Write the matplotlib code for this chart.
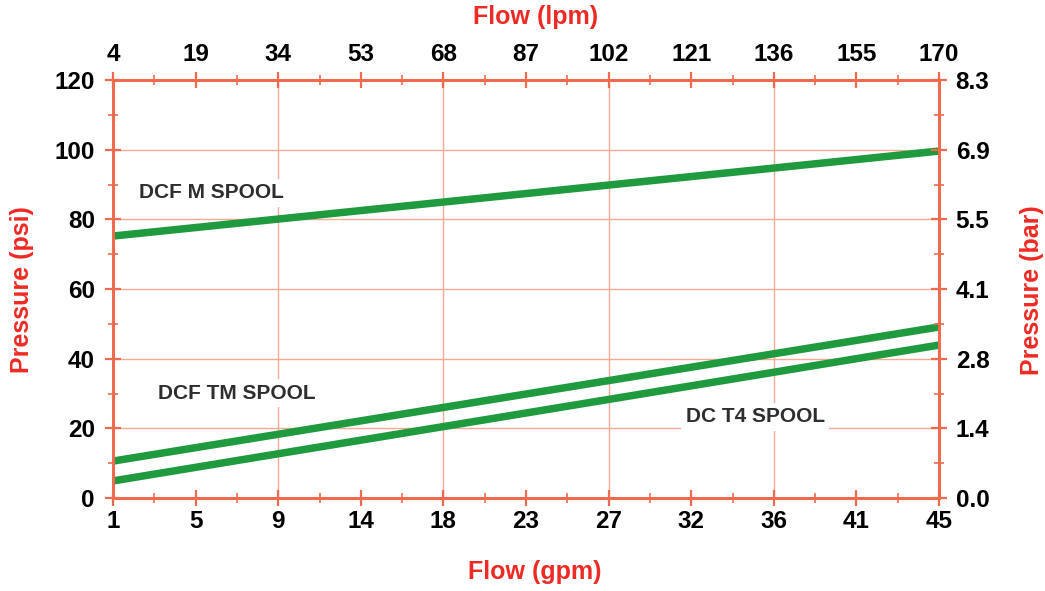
import numpy as np
import matplotlib
matplotlib.use("Agg")
import matplotlib.pyplot as plt
from matplotlib.ticker import FixedLocator, MultipleLocator

plt.rcParams['font.family'] = ['Liberation Sans', 'DejaVu Sans']

# Data
gpm_ticks = [1 + 4.4 * i for i in range(11)]
gpm_labels = ['1', '5', '9', '14', '18', '23', '27', '32', '36', '41', '45']
lpm_labels = ['4', '19', '34', '53', '68', '87', '102', '121', '136', '155', '170']
psi_ticks = [0, 20, 40, 60, 80, 100, 120]
bar_labels = ['0.0', '1.4', '2.8', '4.1', '5.5', '6.9', '8.3']

flow = [1, 45]
dcf_m = [75.2, 99.6]
dcf_tm = [10.6, 49.1]
dc_t4 = [4.9, 43.9]

series_labels = ['DCF M SPOOL', 'DCF TM SPOOL', 'DC T4 SPOOL']
label_pos = [(2.4, 87.6), (3.4, 30.1), (31.5, 23.3)]

spine_c = '#f26a4e'
grid_c = '#f7a996'
green = '#1f9a3e'
red = '#ee2a24'

fig = plt.figure(figsize=(10.45, 5.91), dpi=100)
ax = fig.add_axes([113/1045, 93/591, 826/1045, 418/591])
ax.set_xlim(1, 45)
ax.set_ylim(0, 120)

# grid
for xv in gpm_ticks[2:-1:2]:
    ax.axvline(xv, color=grid_c, lw=1.0, zorder=1)
for yv in psi_ticks[1:-1]:
    ax.axhline(yv, color=grid_c, lw=1.0, zorder=1)

for ys in (dcf_m, dcf_tm, dc_t4):
    ax.plot(flow, ys, color=green, lw=5.4, solid_capstyle='butt', zorder=3)

for txt, (tx, ty) in zip(series_labels, label_pos):
    ax.text(tx, ty, txt, fontsize=15, fontweight='bold', color='#2e2e2e',
            va='center', ha='left', zorder=2,
            bbox=dict(facecolor='white', edgecolor='none', pad=3))

ax.xaxis.set_major_locator(FixedLocator(gpm_ticks))
ax.set_xticklabels(gpm_labels)
ax.xaxis.set_minor_locator(FixedLocator([t + 2.2 for t in gpm_ticks[:-1]]))
ax.yaxis.set_major_locator(FixedLocator(psi_ticks))
ax.yaxis.set_minor_locator(MultipleLocator(10))

axt = ax.twiny()
axt.set_xlim(ax.get_xlim())
axt.xaxis.set_major_locator(FixedLocator(gpm_ticks))
axt.set_xticklabels(lpm_labels)
axt.xaxis.set_minor_locator(FixedLocator([t + 2.2 for t in gpm_ticks[:-1]]))

axr = ax.twinx()
axr.set_ylim(ax.get_ylim())
axr.yaxis.set_major_locator(FixedLocator(psi_ticks))
axr.set_yticklabels(bar_labels)
axr.yaxis.set_minor_locator(MultipleLocator(10))

for a in (ax, axt, axr):
    for s in a.spines.values():
        s.set_color(spine_c)
        s.set_linewidth(2.0)
    a.tick_params(which='major', direction='inout', length=12, width=1.6,
                  color=spine_c, labelsize=17.5)
    a.tick_params(which='minor', direction='inout', length=7, width=1.2,
                  color=spine_c)
    for lab in a.get_xticklabels() + a.get_yticklabels():
        lab.set_fontweight('bold')

ax.tick_params(axis='x', which='major', pad=3)
ax.tick_params(axis='y', which='major', pad=7)
axt.tick_params(axis='x', which='major', pad=4)
axr.tick_params(axis='y', which='major', pad=6)

ax.set_xlabel('Flow (gpm)', fontsize=18, fontweight='bold', color=red, va='center')
axt.set_xlabel('Flow (lpm)', fontsize=18, fontweight='bold', color=red, va='center')
ax.set_ylabel('Pressure (psi)', fontsize=18, fontweight='bold', color=red,
              va='center', ha='center')
axr.set_ylabel('Pressure (bar)', fontsize=18, fontweight='bold', color=red,
               rotation=90, va='center', ha='center')
ax.xaxis.set_label_coords(0.511, -0.177)
axt.xaxis.set_label_coords(0.511, 1.151)
ax.yaxis.set_label_coords(-0.110, 0.498)
axr.yaxis.set_label_coords(1.1126, 0.498)

fig.savefig('out.png', dpi=100, facecolor='white')
